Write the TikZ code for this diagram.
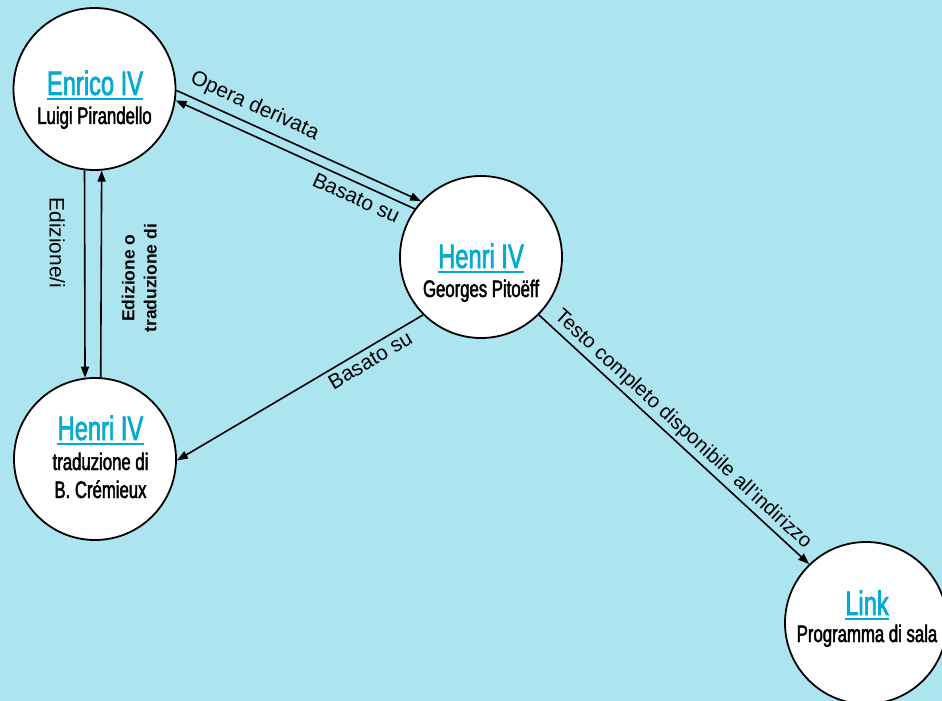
\documentclass[tikz,border=0pt]{standalone}
\usepackage{fontspec}
\setmainfont{Liberation Sans}
\newfontfamily\condfont[FakeStretch=0.7,FakeBold=2]{Liberation Sans}
\newfontfamily\subfont[FakeStretch=0.7,FakeBold=2]{Liberation Sans}
\usetikzlibrary{arrows.meta}
\definecolor{bgc}{RGB}{172,228,239}
\definecolor{titc}{RGB}{5,170,208}
\begin{document}
\begin{tikzpicture}[x=1bp,y=-1bp,
  circ/.style={circle, draw=black, line width=1.8bp, fill=white, minimum size=162bp, inner sep=0pt},
  ttl/.style={font=\condfont\fontsize{34}{38}\selectfont, text=titc, inner sep=0pt, anchor=base},
  sub/.style={font=\subfont\fontsize{24}{28}\selectfont, inner sep=0pt, anchor=base},
  uline/.style={titc, line width=2.8bp},
  conn/.style={line width=1.6bp, -{Triangle[length=11bp,width=8bp]}},
  lab/.style={font=\fontsize{21}{24}\selectfont, sloped, inner sep=1bp},
  blab/.style={font=\bfseries\fontsize{17.5}{22}\selectfont, sloped, align=center, inner sep=1bp},
]
\useasboundingbox (0,0) rectangle (942,701);
\clip (0,0) rectangle (942,701);
\fill[bgc] (0,0) rectangle (942,701);

% circles
\node[circ] (enrico) at (94.5,89) {};
\node[circ] (pitoeff) at (481,257) {};
\node[circ] (cremieux) at (95,459) {};
\node[circ] (link) at (866,623) {};

% texts
\node[ttl] (t1) at (95,95) {Enrico IV};
\node[sub] (s1) at (94.5,124) {Luigi Pirandello};
\node[ttl] (t2) at (481,268) {Henri IV};
\node[sub] (s2) at (481,297) {Georges Pitoëff};
\node[ttl] (t3) at (100.5,440) {Henri IV};
\node[sub] (s3) at (100.5,470) {traduzione di};
\node[sub] (s3b) at (100.5,498) {B. Crémieux};
\node[ttl] (t4) at (867,615) {Link};
\node[sub] (s4) at (867,642) {Programma di sala};

\foreach \t in {t1,t2,t3,t4}
  \draw[uline] ([yshift=-4bp]\t.base west) -- ([yshift=-4bp]\t.base east);

% connectors
\draw[conn] (enrico.-1) -- node[lab, above=6bp, pos=0.29] {Opera derivata} (pitoeff.137);
\draw[conn] (pitoeff.144) -- node[lab, below=5bp, pos=0.22] {Basato su} (enrico.-8);
\draw[conn] (enrico.-97) -- node[lab, allow upside down, below=18bp, pos=0.35] {Edizione/i} (cremieux.97);
\draw[conn] (cremieux.86) -- node[blab, allow upside down, below=19bp, pos=0.48] {Edizione o\\traduzione di} (enrico.-85);
\draw[conn] (pitoeff.-135) -- node[lab, below=3bp, pos=0.24] {Basato su} (cremieux.-1);
\draw[conn] (pitoeff.-45) -- node[lab, font=\fontsize{20.3}{24}\selectfont, above=2bp, pos=0.5] {Testo completo disponibile all’indirizzo} (link.134);
\end{tikzpicture}
\end{document}
